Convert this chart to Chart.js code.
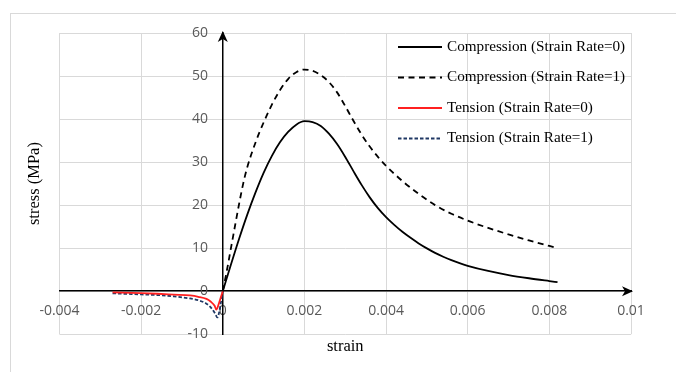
<!DOCTYPE html>
<html>
<head>
<meta charset="utf-8">
<script src="https://cdn.jsdelivr.net/npm/chart.js@4/dist/chart.umd.min.js"></script>
<style>
  html, body { margin: 0; padding: 0; background: #fff; }
  #frame { position: absolute; left: 10px; top: 13px; width: 720px; height: 420px; border: 1px solid #d9d9d9; }
  #wrap  { position: absolute; left: 0; top: 0; width: 676px; height: 372px; }
</style>
</head>
<body>
<div id="frame"></div>
<div id="wrap"><canvas id="chart" width="676" height="372"></canvas></div>
<script>
// tick values
const X_TICKS = [-0.004, -0.002, 0, 0.002, 0.004, 0.006, 0.008, 0.01];
const Y_TICKS = [-10, 0, 10, 20, 30, 40, 50, 60];

// Compression, strain rate = 0
const C0_STRAIN = [0, 0.0002, 0.0004, 0.0006, 0.0008, 0.001, 0.0012, 0.0014, 0.0016, 0.0018, 0.002,
  0.0022, 0.0024, 0.0026, 0.0028, 0.003, 0.0032, 0.0034, 0.0036, 0.0038, 0.004,
  0.0042, 0.0044, 0.0046, 0.0048, 0.005, 0.0052, 0.0054, 0.0056, 0.0058, 0.006,
  0.0065, 0.007, 0.0075, 0.008, 0.0082];
const C0_STRESS = [0, 6.2, 12.2, 17.8, 22.9, 27.5, 31.4, 34.6, 37.0, 38.7, 39.5,
  39.3, 38.4, 36.6, 34.2, 31.2, 27.9, 24.7, 21.8, 19.3, 17.2,
  15.4, 13.8, 12.4, 11.1, 9.95, 8.9, 8.0, 7.2, 6.5, 5.9,
  4.7, 3.75, 3.0, 2.35, 2.1];

// Compression, strain rate = 1
const C1_STRAIN = [0, 0.0001, 0.0002, 0.0003, 0.0004, 0.0005, 0.0006, 0.0008, 0.001, 0.0012, 0.0014,
  0.0016, 0.0018, 0.002, 0.0022, 0.0024, 0.0026, 0.0028, 0.003, 0.0032, 0.0034, 0.0036, 0.0038,
  0.004, 0.0044, 0.0048, 0.0052, 0.0056, 0.006, 0.0065, 0.007, 0.0075, 0.008, 0.0082];
const C1_STRESS = [0, 4.8, 10, 15.2, 20.3, 25, 28.8, 34.5, 39.2, 43.3, 46.7,
  49.3, 50.9, 51.5, 51.2, 50.2, 48.6, 46.2, 43.0, 39.6, 36.4, 33.6, 31.2,
  29.1, 25.6, 22.6, 20.0, 18.0, 16.4, 14.7, 13.2, 11.8, 10.5, 10.0];

// Tension, strain rate = 0
const T0_STRAIN = [-0.0027, -0.002, -0.0016, -0.0012, -0.0008, -0.0006, -0.0004, -0.0003, -0.0002, -0.00016, -0.0001, -0.00005, 0];
const T0_STRESS = [-0.3, -0.45, -0.6, -0.8, -1.0, -1.3, -1.8, -2.4, -3.4, -4.3, -3.0, -1.5, 0];

// Tension, strain rate = 1
const T1_STRAIN = [-0.0027, -0.002, -0.0016, -0.0012, -0.0008, -0.0006, -0.0004, -0.0003, -0.0002, -0.00013, -0.00008, -0.00004, 0];
const T1_STRESS = [-0.5, -0.75, -0.9, -1.2, -1.7, -2.1, -2.9, -3.7, -5.0, -6.1, -4.5, -2.3, 0];

const SERIES_LABELS = [
  'Compression (Strain Rate=0)',
  'Compression (Strain Rate=1)',
  'Tension (Strain Rate=0)',
  'Tension (Strain Rate=1)',
];

const TICK_FONT = { family: 'Open Sans', size: 14 };
const SERIF     = 'Liberation Serif';

function pts(xs, ys) {
  return xs.map((x, i) => ({ x, y: ys[i] }));
}

function line(label, data, color, dash, width) {
  return {
    label, data,
    showLine: true,
    borderColor: color,
    backgroundColor: color,
    borderWidth: width,
    borderDash: dash,
    pointRadius: 0,
    cubicInterpolationMode: 'monotone',
    fill: false,
  };
}

// arrows at the ends of the two axis lines
const axisArrows = {
  id: 'axisArrows',
  afterDraw(chart) {
    const { ctx, chartArea, scales } = chart;
    const x0 = scales.x.getPixelForValue(0);
    const y0 = scales.y.getPixelForValue(0);
    ctx.save();
    ctx.fillStyle = '#000';
    // up
    ctx.beginPath();
    ctx.moveTo(x0, chartArea.top - 2);
    ctx.lineTo(x0 + 5, chartArea.top + 9);
    ctx.lineTo(x0, chartArea.top + 6);
    ctx.lineTo(x0 - 5, chartArea.top + 9);
    ctx.closePath();
    ctx.fill();
    // right
    ctx.beginPath();
    ctx.moveTo(chartArea.right + 2, y0);
    ctx.lineTo(chartArea.right - 9, y0 - 5);
    ctx.lineTo(chartArea.right - 6, y0);
    ctx.lineTo(chartArea.right - 9, y0 + 5);
    ctx.closePath();
    ctx.fill();
    ctx.restore();
  }
};

// legend drawn inside the plot, top right
const insideLegend = {
  id: 'insideLegend',
  afterDraw(chart) {
    const { ctx } = chart;
    const x1 = 398, x2 = 442, tx = 447;
    let y = 47;
    ctx.save();
    ctx.font = '15.2px "' + SERIF + '"';
    ctx.textBaseline = 'middle';
    ctx.textAlign = 'left';
    chart.data.datasets.forEach(ds => {
      ctx.strokeStyle = ds.borderColor;
      ctx.lineWidth = ds.borderWidth;
      ctx.setLineDash(ds.borderDash || []);
      ctx.beginPath();
      ctx.moveTo(x1, y);
      ctx.lineTo(x2, y);
      ctx.stroke();
      ctx.fillStyle = '#000';
      ctx.fillText(ds.label, tx, y);
      y += 30.5;
    });
    ctx.restore();
  }
};

const hiddenAxis = {
  grid: { display: false, drawTicks: false },
  border: { display: false },
};

const ctx = document.getElementById('chart');
const chart = new Chart(ctx, {
  type: 'scatter',
  data: {
    datasets: [
      line(SERIES_LABELS[0], pts(C0_STRAIN, C0_STRESS), '#000000', [], 1.8),
      line(SERIES_LABELS[1], pts(C1_STRAIN, C1_STRESS), '#000000', [6, 4.5], 1.8),
      line(SERIES_LABELS[2], pts(T0_STRAIN, T0_STRESS), '#ff2020', [], 1.8),
      line(SERIES_LABELS[3], pts(T1_STRAIN, T1_STRESS), '#203864', [3.5, 2], 1.8),
    ]
  },
  options: {
    responsive: false,
    animation: false,
    layout: { padding: { left: 21, right: 45, top: 33, bottom: 11 } },
    plugins: {
      legend: { display: false },
      tooltip: { enabled: false },
    },
    scales: {
      x: {
        type: 'linear',
        position: { y: 0 },
        min: -0.004, max: 0.01,
        afterBuildTicks: s => { s.ticks = X_TICKS.map(v => ({ value: v })); },
        ticks: { autoSkip: false, maxRotation: 0, padding: 11, font: TICK_FONT, color: '#595959', callback: v => String(v) },
        grid: { color: '#d9d9d9', drawTicks: false },
        border: { color: '#000', width: 1.5 },
      },
      y: {
        type: 'linear',
        position: { x: 0 },
        min: -10, max: 60,
        afterBuildTicks: s => { s.ticks = Y_TICKS.map(v => ({ value: v })); },
        ticks: { display: false },
        grid: { color: '#d9d9d9', drawTicks: false },
        border: { color: '#000', width: 1.5 },
      },
      // carries the y tick labels, a little to the left of the y axis line
      yLab: {
        ...hiddenAxis,
        type: 'linear',
        position: { x: -0.00036 },
        min: -10, max: 60,
        afterBuildTicks: s => { s.ticks = Y_TICKS.map(v => ({ value: v })); },
        ticks: { autoSkip: false, font: TICK_FONT, color: '#595959', callback: v => String(v) },
      },
      xt: {
        ...hiddenAxis,
        type: 'linear', position: 'bottom', min: -0.004, max: 0.01,
        ticks: { display: false },
        title: { display: true, text: 'strain', color: '#000', font: { family: SERIF, size: 16.5 }, padding: { top: 3, bottom: 4 } },
      },
      yt: {
        ...hiddenAxis,
        type: 'linear', position: 'left', min: -10, max: 60,
        ticks: { display: false },
        title: { display: true, text: 'stress (MPa)', color: '#000', font: { family: SERIF, size: 16.5 }, padding: { top: 4, bottom: 14.7 } },
      },
    }
  },
  plugins: [axisArrows, insideLegend]
});
</script>
</body>
</html>
